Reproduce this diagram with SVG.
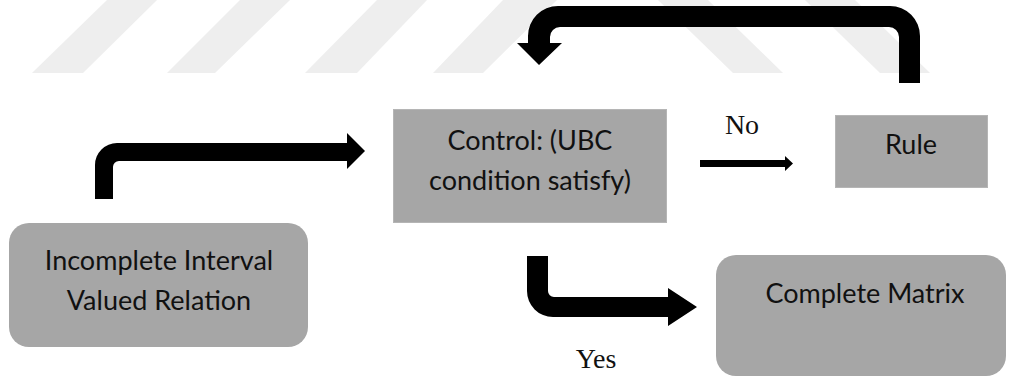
<svg xmlns="http://www.w3.org/2000/svg" width="1011" height="378" viewBox="0 0 1011 378">
<defs>
<style>
.bg{fill:#ffffff}
.wm{fill:#eeeeee}
.box{fill:#a6a6a6}
.rect{fill:#a6a6a6;stroke:#b5b5b5;stroke-width:1}
.lbl{font-family:Lato,"Open Sans","Liberation Sans",sans-serif;font-size:27px;fill:#111111;text-anchor:middle}
.ser{font-family:"Liberation Serif","Times New Roman",serif;font-size:28px;fill:#111111;text-anchor:middle}
.arr{fill:#000000}
</style>
</defs>
<rect class="bg" x="0" y="0" width="1011" height="378"/>
<g id="watermark">
<polygon class="wm" points="32,73 83,73 157,0 107,0"/>
<polygon class="wm" points="167,73 215,73 290,0 240,0"/>
<polygon class="wm" points="305,73 357,73 427,0 377,0"/>
<polygon class="wm" points="433,73 483,73 557,0 503,0"/>
<polygon class="wm" points="658,0 708,0 783,73 733,73"/>
<polygon class="wm" points="805,0 855,0 930,73 880,73"/>
</g>
<g id="connectors">
<path class="arr" d="M95,199 V165 A22,22 0 0 1 117,143 H347 V133 L365,151 L347,169 V161 H119 A6,6 0 0 0 113,167 V199 Z"/>
<path class="arr" d="M899,83 V37 A10,10 0 0 0 889,27 H560 A10,10 0 0 0 550,37 V43 H562 L539,65 L517,43 H528 V36 A30,30 0 0 1 558,6 H890 A30,30 0 0 1 920,36 V83 Z"/>
<path class="arr" d="M700,160 H785 V156 L793,163.5 L785,171 V167 H700 Z"/>
<path class="arr" d="M527,256 H548 V291 A6,6 0 0 0 554,297 H668 V288 L697,307 L668,326 V317 H553 A26,26 0 0 1 527,291 Z"/>
<text class="ser" x="742" y="134">No</text>
<text class="ser" x="596" y="368">Yes</text>
</g>
<g id="node-incomplete">
<rect class="box" x="9" y="223" width="299" height="124" rx="20" ry="20"/>
<text class="lbl" x="159" y="270">Incomplete Interval</text>
<text class="lbl" x="159" y="310">Valued Relation</text>
</g>
<g id="node-control">
<rect class="rect" x="393.5" y="109.5" width="273" height="113"/>
<text class="lbl" x="530" y="150">Control: (UBC</text>
<text class="lbl" x="530" y="190">condition satisfy)</text>
</g>
<g id="node-rule">
<rect class="rect" x="835.5" y="115.5" width="152" height="72"/>
<text class="lbl" x="911" y="154">Rule</text>
</g>
<g id="node-complete">
<rect class="box" x="716" y="255" width="290" height="121" rx="20" ry="20"/>
<text class="lbl" x="865" y="303">Complete Matrix</text>
</g>
</svg>
